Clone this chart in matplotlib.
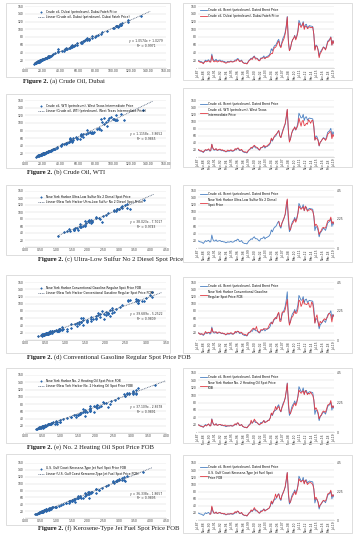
import matplotlib
matplotlib.use("Agg")
import matplotlib.pyplot as plt
from matplotlib.patches import Rectangle
from matplotlib.text import Annotation
from matplotlib.ticker import FuncFormatter
import numpy as np
import pandas as pd

W, H = 361, 550

# quarterly readings (Jan/Apr/Jul/Oct), Jul-1987 .. Jul-2019, $/barrel
series_start = "1987-07-01"
brent = [
    19.5, 18.7,
    16.8, 16.6, 15.0, 12.6,
    16.6, 20.3, 17.9, 19.9,
    21.2, 16.6, 17.2, 35.9,
    23.6, 19.1, 19.5, 22.6,
    18.2, 19.1, 20.3, 20.2,
    17.4, 18.6, 16.8, 16.9,
    14.5, 14.9, 17.1, 16.2,
    16.6, 18.5, 16.1, 16.3,
    17.9, 21.0, 19.6, 24.4,
    23.5, 17.8, 18.5, 20.5,
    15.1, 13.5, 12.1, 12.9,
    11.1, 15.3, 19.9, 22.0,
    25.5, 23.7, 28.7, 31.0,
    25.6, 25.6, 24.6, 20.5,
    19.4, 25.7, 25.8, 27.3,
    31.2, 25.0, 28.5, 29.6,
    31.3, 33.4, 38.4, 49.8,
    44.5, 52.0, 57.6, 58.4,
    63.6, 70.3, 74.0, 59.8,
    54.6, 67.5, 77.0, 82.5,
    92.2, 108.8, 133.0, 72.8,
    44.9, 50.6, 64.9, 73.2,
    76.4, 84.3, 75.6, 83.5,
    96.5, 123.1, 116.2, 109.6,
    110.7, 119.8, 102.6, 111.7,
    112.9, 103.3, 107.4, 109.5,
    108.1, 107.8, 106.8, 87.4,
    47.8, 59.5, 56.8, 48.4,
    30.7, 41.6, 44.9, 49.8,
    54.6, 52.3, 48.5, 57.5,
    69.1, 71.8, 74.3, 80.5,
    59.4, 71.2, 64.1,
]

dubai = [
    17.9, 17.0,
    14.5, 15.0, 13.5, 11.0,
    15.0, 17.5, 15.9, 17.2,
    19.0, 15.5, 15.2, 32.0,
    20.0, 16.0, 16.5, 19.5,
    15.5, 16.5, 18.5, 17.8,
    15.8, 16.5, 15.2, 14.5,
    12.5, 13.2, 15.8, 14.8,
    15.5, 17.0, 15.5, 15.7,
    16.8, 18.5, 17.8, 22.0,
    21.5, 16.6, 17.4, 18.9,
    14.5, 12.5, 11.5, 12.3,
    10.3, 14.2, 18.5, 21.0,
    24.0, 22.0, 27.0, 29.5,
    23.0, 24.0, 23.5, 19.0,
    18.5, 23.5, 24.5, 25.8,
    27.0, 24.0, 27.0, 27.5,
    28.0, 30.5, 34.5, 37.5,
    37.0, 47.0, 52.5, 53.5,
    58.5, 65.5, 69.5, 57.0,
    52.5, 63.5, 70.0, 76.5,
    87.5, 103.5, 131.5, 68.0,
    44.5, 50.0, 64.5, 73.0,
    76.5, 83.0, 72.5, 81.0,
    92.5, 116.5, 110.5, 104.5,
    109.5, 117.0, 99.5, 108.5,
    107.5, 101.5, 103.5, 106.5,
    104.0, 104.5, 105.5, 86.5,
    45.5, 57.0, 56.0, 45.5,
    26.5, 37.5, 41.5, 47.5,
    53.5, 51.5, 46.5, 54.5,
    66.5, 68.5, 73.0, 79.5,
    59.0, 70.5, 63.0,
]

wti = [
    21.4, 19.9,
    17.0, 17.9, 15.5, 14.1,
    18.0, 20.4, 19.6, 20.1,
    22.9, 18.4, 18.6, 35.9,
    25.2, 20.8, 21.4, 23.6,
    18.8, 20.2, 21.8, 21.7,
    19.1, 20.3, 17.8, 18.1,
    15.0, 16.4, 19.6, 17.7,
    18.0, 20.4, 17.3, 17.4,
    18.9, 23.6, 21.3, 24.9,
    25.2, 19.7, 19.7, 21.3,
    16.7, 15.4, 14.1, 14.4,
    12.5, 17.3, 20.1, 22.8,
    27.2, 25.7, 30.0, 32.9,
    29.6, 27.4, 26.3, 22.2,
    19.7, 26.2, 26.9, 28.8,
    32.9, 28.2, 30.8, 30.3,
    34.3, 36.7, 40.7, 53.1,
    46.8, 53.2, 58.7, 62.4,
    65.5, 69.4, 74.4, 58.9,
    54.5, 63.9, 74.1, 86.2,
    93.0, 112.6, 133.9, 76.6,
    41.7, 49.7, 64.1, 75.7,
    78.3, 84.3, 76.3, 81.9,
    89.4, 109.5, 97.3, 86.4,
    100.2, 102.9, 87.9, 89.5,
    94.8, 92.0, 104.7, 100.5,
    94.6, 102.1, 102.9, 84.4,
    47.2, 54.5, 50.9, 46.2,
    31.7, 41.1, 44.7, 49.8,
    52.5, 51.1, 46.6, 51.6,
    63.7, 66.3, 71.0, 70.8,
    51.4, 63.9, 57.4,
]

# products, $/gallon
diesel_start = "2006-07-01"
diesel = [
    2.05, 1.75,
    1.65, 1.95, 2.10, 2.35,
    2.60, 3.35, 3.80, 2.45,
    1.45, 1.40, 1.75, 1.90,
    2.05, 2.25, 2.00, 2.25,
    2.65, 3.25, 3.10, 3.00,
    3.10, 3.20, 2.90, 3.25,
    3.05, 2.85, 2.95, 2.95,
    3.00, 2.95, 2.85, 2.50,
    1.70, 1.85, 1.75, 1.55,
    1.05, 1.25, 1.35, 1.55,
    1.60, 1.55, 1.55, 1.80,
    2.10, 2.15, 2.15, 2.40,
    1.90, 2.05, 1.90,
]

gasoline_start = "1987-07-01"
gasoline = [
    0.56, 0.52,
    0.42, 0.49, 0.47, 0.43,
    0.48, 0.66, 0.57, 0.53,
    0.60, 0.58, 0.56, 0.92,
    0.62, 0.62, 0.62, 0.63,
    0.52, 0.60, 0.62, 0.57,
    0.52, 0.55, 0.50, 0.50,
    0.40, 0.47, 0.54, 0.47,
    0.52, 0.57, 0.51, 0.45,
    0.52, 0.67, 0.60, 0.66,
    0.67, 0.58, 0.60, 0.60,
    0.45, 0.47, 0.42, 0.42,
    0.33, 0.52, 0.60, 0.60,
    0.73, 0.82, 0.92, 0.85,
    0.82, 1.05, 0.72, 0.63,
    0.58, 0.80, 0.80, 0.78,
    0.88, 0.85, 0.87, 0.85,
    0.95, 1.15, 1.30, 1.35,
    1.25, 1.55, 1.65, 1.75,
    1.65, 2.00, 2.15, 1.45,
    1.45, 2.10, 2.20, 2.15,
    2.35, 2.75, 3.15, 1.85,
    1.15, 1.40, 1.75, 1.80,
    2.00, 2.25, 2.05, 2.10,
    2.40, 3.10, 3.00, 2.60,
    2.80, 3.15, 2.80, 2.80,
    2.75, 2.80, 2.90, 2.55,
    2.55, 2.95, 2.80, 2.15,
    1.30, 1.75, 1.95, 1.40,
    1.05, 1.45, 1.35, 1.40,
    1.55, 1.65, 1.55, 1.70,
    1.80, 2.05, 2.05, 1.90,
    1.40, 1.95, 1.85,
]

heating_start = "1987-07-01"
heating = [
    0.54, 0.53,
    0.45, 0.43, 0.40, 0.38,
    0.47, 0.50, 0.46, 0.55,
    0.62, 0.48, 0.47, 0.98,
    0.70, 0.55, 0.53, 0.62,
    0.50, 0.53, 0.57, 0.58,
    0.53, 0.53, 0.49, 0.52,
    0.52, 0.45, 0.47, 0.47,
    0.47, 0.48, 0.45, 0.48,
    0.55, 0.63, 0.54, 0.70,
    0.68, 0.50, 0.51, 0.57,
    0.43, 0.40, 0.35, 0.37,
    0.32, 0.41, 0.50, 0.58,
    0.90, 0.68, 0.78, 0.98,
    0.85, 0.75, 0.68, 0.60,
    0.55, 0.65, 0.64, 0.75,
    0.88, 0.72, 0.76, 0.80,
    0.90, 0.88, 1.08, 1.45,
    1.30, 1.55, 1.65, 1.95,
    1.70, 1.85, 1.95, 1.70,
    1.55, 1.85, 2.05, 2.30,
    2.55, 3.15, 3.70, 2.35,
    1.45, 1.40, 1.65, 1.85,
    2.05, 2.20, 2.00, 2.25,
    2.65, 3.20, 3.05, 2.95,
    3.05, 3.15, 2.85, 3.15,
    3.05, 2.85, 2.95, 2.90,
    3.05, 2.90, 2.80, 2.45,
    1.70, 1.85, 1.70, 1.50,
    1.00, 1.20, 1.30, 1.50,
    1.60, 1.55, 1.50, 1.75,
    2.05, 2.10, 2.15, 2.40,
    1.85, 2.00, 1.85,
]

jet_start = "1990-04-01"
jet = [
    0.47, 0.47, 1.10,
    0.75, 0.55, 0.54, 0.62,
    0.51, 0.55, 0.59, 0.58,
    0.52, 0.53, 0.49, 0.51,
    0.44, 0.45, 0.48, 0.48,
    0.48, 0.50, 0.48, 0.50,
    0.56, 0.66, 0.58, 0.71,
    0.68, 0.53, 0.53, 0.60,
    0.45, 0.41, 0.36, 0.39,
    0.32, 0.42, 0.53, 0.62,
    0.80, 0.70, 0.80, 0.98,
    0.82, 0.77, 0.70, 0.58,
    0.54, 0.66, 0.66, 0.75,
    0.85, 0.72, 0.78, 0.82,
    0.90, 0.95, 1.15, 1.50,
    1.30, 1.55, 1.70, 2.05,
    1.75, 1.95, 2.05, 1.75,
    1.60, 1.95, 2.10, 2.35,
    2.60, 3.20, 3.75, 2.25,
    1.40, 1.40, 1.70, 1.90,
    2.05, 2.25, 2.00, 2.25,
    2.65, 3.25, 3.10, 3.00,
    3.10, 3.15, 2.85, 3.15,
    3.00, 2.80, 2.90, 2.95,
    2.95, 2.90, 2.80, 2.45,
    1.60, 1.80, 1.65, 1.45,
    1.00, 1.20, 1.30, 1.45,
    1.55, 1.50, 1.50, 1.70,
    2.05, 2.10, 2.15, 2.35,
    1.85, 2.00, 1.90,
]

date_labels = ["Jul-87", "Nov-88", "Mar-90", "Jul-91", "Nov-92", "Mar-94", "Jul-95",
               "Nov-96", "Mar-98", "Jul-99", "Nov-00", "Mar-02", "Jul-03", "Nov-04",
               "Mar-06", "Jul-07", "Nov-08", "Mar-10", "Jul-11", "Nov-12", "Mar-14",
               "Jul-15", "Nov-16", "Mar-18", "Jul-19"]

brent_name = "Crude oil, Brent (petroleum), Dated Brent Price"
panels = [
    dict(vals=dubai, start=series_start, dual=False, xmax=160, xstep=20,
         name="Crude oil, Dubai (petroleum), Dubai Fateh Price",
         ts_name="Crude oil, Dubai (petroleum), Dubai Fateh Price",
         eq="y = 1.0574x + 1.0279\nR² = 0.9971",
         tag="(a)", cap="Crude Oil, Dubai"),
    dict(vals=wti, start=series_start, dual=False, xmax=160, xstep=20,
         name="Crude oil, WTI (petroleum), West Texas Intermediate Price",
         ts_name="Crude oil, WTI (petroleum), West Texas\nIntermediate Price",
         eq="y = 1.1158x - 3.8652\nR² = 0.9865",
         tag="(b)", cap="Crude Oil, WTI"),
    dict(vals=diesel, start=diesel_start, dual=True, xmax=4.5, xstep=0.5,
         name="New York Harbor Ultra-Low Sulfur No 2 Diesel Spot Price",
         ts_name="New York Harbor Ultra-Low Sulfur No 2 Diesel\nSpot Price",
         eq="y = 38.023x - 7.7017\nR² = 0.9743",
         tag="(c)", cap="Ultra-Low Sulfur No 2 Diesel Spot Price"),
    dict(vals=gasoline, start=gasoline_start, dual=True, xmax=3.5, xstep=0.5,
         name="New York Harbor Conventional Gasoline Regular Spot Price FOB",
         ts_name="New York Harbor Conventional Gasoline\nRegular Spot Price FOB",
         eq="y = 39.689x - 5.2522\nR² = 0.9809",
         tag="(d)", cap="Conventional Gasoline Regular Spot Price FOB"),
    dict(vals=heating, start=heating_start, dual=True, xmax=4.0, xstep=0.5,
         name="New York Harbor No. 2 Heating Oil Spot Price FOB",
         ts_name="New York Harbor No. 2 Heating Oil Spot Price\nFOB",
         eq="y = 37.109x - 2.8578\nR² = 0.9891",
         tag="(e)", cap="No. 2 Heating Oil Spot Price FOB"),
    dict(vals=jet, start=jet_start, dual=True, xmax=4.5, xstep=0.5,
         name="U.S. Gulf Coast Kerosene-Type Jet Fuel Spot Price FOB",
         ts_name="U.S. Gulf Coast Kerosene-Type Jet Fuel Spot\nPrice FOB",
         eq="y = 36.338x - 1.8657\nR² = 0.9895",
         tag="(f)", cap="Kerosene-Type Jet Fuel Spot Price FOB"),
]

# pixel layout per row: left box, left plot, right box, right plot, caption y, caption x
rows = [
    dict(lbox=(3, 77), lplot=(6, 68), rbox=(3, 80), rplot=(6, 68), capy=83, capx=23),
    dict(lbox=(94, 168), lplot=(100, 161), rbox=(88, 167), rplot=(100, 157), capy=174, capx=27),
    dict(lbox=(185, 255), lplot=(191, 247), rbox=(185, 262), rplot=(190, 248), capy=261, capx=38),
    dict(lbox=(275, 353), lplot=(282, 340), rbox=(277, 353), rplot=(282, 340), capy=359, capx=27),
    dict(lbox=(368, 443), lplot=(375, 433), rbox=(368, 443), rplot=(373, 432), capy=449, capx=27),
    dict(lbox=(454, 525), lplot=(463, 518), rbox=(455, 533), rplot=(463, 520), capy=530, capx=38),
]
LBOX_X = (6, 170)
LPLOT_X = (25, 166)
RBOX_X = (183, 352)
RPLOT_X = (198, 334)

BLUE = "#2a67ad"
LINE_BLUE = "#4a80c2"
RED = "#e23b45"
GRID = "#d9d9d9"
TXT = "#333333"
FS = 2.2

fig = plt.figure(figsize=(W / 100, H / 100), dpi=100)
fig.patch.set_facecolor("white")


def rect(x0, x1, y0, y1):
    return [x0 / W, 1 - y1 / H, (x1 - x0) / W, (y1 - y0) / H]


def ylab(v, pos):
    return "-" if v == 0 else f"{v:.0f}"


def style(ax):
    for s in ["top", "right", "left"]:
        ax.spines[s].set_visible(False)
    ax.spines["bottom"].set_color("#bfbfbf")
    ax.spines["bottom"].set_linewidth(0.4)
    ax.set_ylim(0, 160)
    ax.set_yticks(np.arange(0, 161, 20))
    ax.yaxis.set_major_formatter(FuncFormatter(ylab))
    ax.grid(axis="y", color=GRID, linewidth=0.35)
    ax.set_axisbelow(True)
    ax.tick_params(labelsize=FS, colors=TXT, length=0, pad=1)


dates = pd.date_range(series_start, periods=len(brent), freq="3MS")
brent_arr = np.array(brent)
tick_pos = [pd.to_datetime(lbl, format="%b-%y") for lbl in date_labels]

for p, r in zip(panels, rows):
    # frames
    for bx, by in [(LBOX_X, r["lbox"]), (RBOX_X, r["rbox"])]:
        fig.patches.append(Rectangle((bx[0] / W, 1 - by[1] / H), (bx[1] - bx[0]) / W,
                                     (by[1] - by[0]) / H, transform=fig.transFigure,
                                     fill=False, edgecolor="#d0d0d0", linewidth=0.5))

    vals = np.array(p["vals"])
    off = dates.get_loc(pd.Timestamp(p["start"]))
    b = brent_arr[off:off + len(vals)]
    d = dates[off:off + len(vals)]

    # scatter
    ax = fig.add_axes(rect(LPLOT_X[0], LPLOT_X[1], r["lplot"][0], r["lplot"][1]))
    style(ax)
    ax.scatter(vals, b, s=2.6, marker="D", color=BLUE, linewidths=0, label=p["name"], zorder=3)
    k, c = np.polyfit(vals, b, 1)
    xs = np.array([vals.min(), vals.max() * 1.08])
    ax.plot(xs, k * xs + c, color="#4e5f78", linewidth=0.6, linestyle=(0, (1, 1)),
            label="Linear (" + p["name"] + ")", zorder=4)
    ax.set_xlim(0, p["xmax"])
    ax.set_xticks(np.arange(0, p["xmax"] + 1e-9, p["xstep"]))
    ax.xaxis.set_major_formatter(FuncFormatter(lambda v, pos: f"{v:.2f}"))
    ax.legend(loc="upper left", bbox_to_anchor=(0.08, 0.97), fontsize=FS, frameon=False,
              handlelength=2.0, handletextpad=0.6, borderpad=0.1, labelspacing=0.4,
              markerscale=0.8)
    ax.text(0.86, 0.40, p["eq"], transform=ax.transAxes, fontsize=FS, color=TXT,
            ha="center", va="center", linespacing=1.3)

    # time series
    ax = fig.add_axes(rect(RPLOT_X[0], RPLOT_X[1], r["rplot"][0], r["rplot"][1]))
    style(ax)
    h1, = ax.plot(dates, brent_arr, color=LINE_BLUE, linewidth=0.6, label=brent_name)
    if p["dual"]:
        ax2 = ax.twinx()
        h2, = ax2.plot(d, vals, color=RED, linewidth=0.6, label=p["ts_name"])
        ax2.set_ylim(0, 4.5)
        ax2.set_yticks([0, 2.25, 4.5])
        ax2.set_yticklabels(["0", "2.25", "4.5"])
        ax2.tick_params(labelsize=FS, colors=TXT, length=0, pad=2)
        for s in ax2.spines.values():
            s.set_visible(False)
        ax2.set_xlim(dates[0], dates[-1])
    else:
        h2, = ax.plot(d, vals, color=RED, linewidth=0.6, label=p["ts_name"])
    ax.set_xlim(dates[0], dates[-1])
    ax.set_xticks(tick_pos)
    ax.set_xticklabels(date_labels, rotation=90)
    ax.legend(handles=[h1, h2], loc="upper left", bbox_to_anchor=(0.0, 0.99), fontsize=FS,
              frameon=False, handlelength=2.2, handletextpad=0.5, borderpad=0.1,
              labelspacing=0.5)

    # caption: bold "Figure 2." followed by the regular text
    y = 1 - r["capy"] / H
    t = fig.text(r["capx"] / W, y, "Figure 2.", fontsize=4.8, fontweight="bold",
                 family="Liberation Serif", va="baseline", color="#1a1a1a")
    fig.add_artist(Annotation(p["tag"] + " " + p["cap"], xy=(1, 0), xycoords=t,
                              xytext=(1.5, 0), textcoords="offset points",
                              fontsize=4.8, family="Liberation Serif", va="bottom",
                              color="#1a1a1a"))

fig.savefig("out.png", dpi=100)
